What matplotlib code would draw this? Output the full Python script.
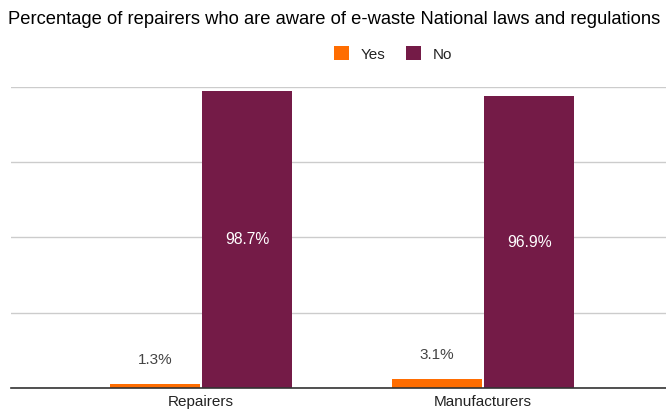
import matplotlib
matplotlib.use("Agg")
import matplotlib.pyplot as plt
import numpy as np
from matplotlib.patches import Patch

categories = ["Repairers", "Manufacturers"]
yes_values = [1.3, 3.1]
no_values = [98.7, 96.9]
series_names = ["Yes", "No"]
colors = ["#ff6d01", "#741b47"]

plt.rcParams["font.family"] = ["Liberation Sans", "DejaVu Sans"]

fig = plt.figure(figsize=(6.66, 4.11), dpi=100)
ax = fig.add_axes([11 / 666, 23 / 411, 655 / 666, 301 / 411])

x = np.arange(len(categories))
width = 0.319
offset = 0.164

bars_yes = ax.bar(x - offset, yes_values, width, color=colors[0], zorder=3)
bars_no = ax.bar(x + offset, no_values, width, color=colors[1], zorder=3)

for rect, v in zip(bars_yes, yes_values):
    ax.annotate(f"{v}%", (rect.get_x() + rect.get_width() / 2, v),
                xytext=(0, 17), textcoords="offset points",
                ha="center", va="center", fontsize=11, color="#444444")
for rect, v in zip(bars_no, no_values):
    ax.text(rect.get_x() + rect.get_width() / 2, v / 2, f"{v}%",
            ha="center", va="center", fontsize=11.3, color="white", zorder=4)

ax.set_ylim(0, 100)
ax.set_xlim(-0.674, 1.648)
ax.set_yticks([0, 25, 50, 75, 100])
ax.set_yticklabels([])
ax.tick_params(axis="y", length=0)
ax.grid(axis="y", color="#cccccc", linewidth=1, zorder=0)
ax.set_xticks(x)
ax.set_xticklabels(categories, fontsize=11, color="#222222")
ax.tick_params(axis="x", length=0, pad=5)
for side in ["top", "right", "left"]:
    ax.spines[side].set_visible(False)
ax.spines["bottom"].set_color("#333333")
ax.spines["bottom"].set_linewidth(1.2)
ax.spines["bottom"].set_zorder(5)

fig.text(8 / 666, 1 - 20 / 411, "Percentage of repairers who are aware of e-waste National laws and regulations",
         ha="left", va="center", fontsize=13.2, color="#000000")

handles = [Patch(facecolor=c, label=n) for c, n in zip(colors, series_names)]
fig.legend(handles=handles, loc="center", bbox_to_anchor=(393 / 666, 1 - 54 / 411),
           ncol=2, frameon=False, fontsize=11, handlelength=1.0, handleheight=1.0,
           handletextpad=0.8, columnspacing=1.3, labelcolor="#222222")

fig.savefig("out.png", dpi=100)
